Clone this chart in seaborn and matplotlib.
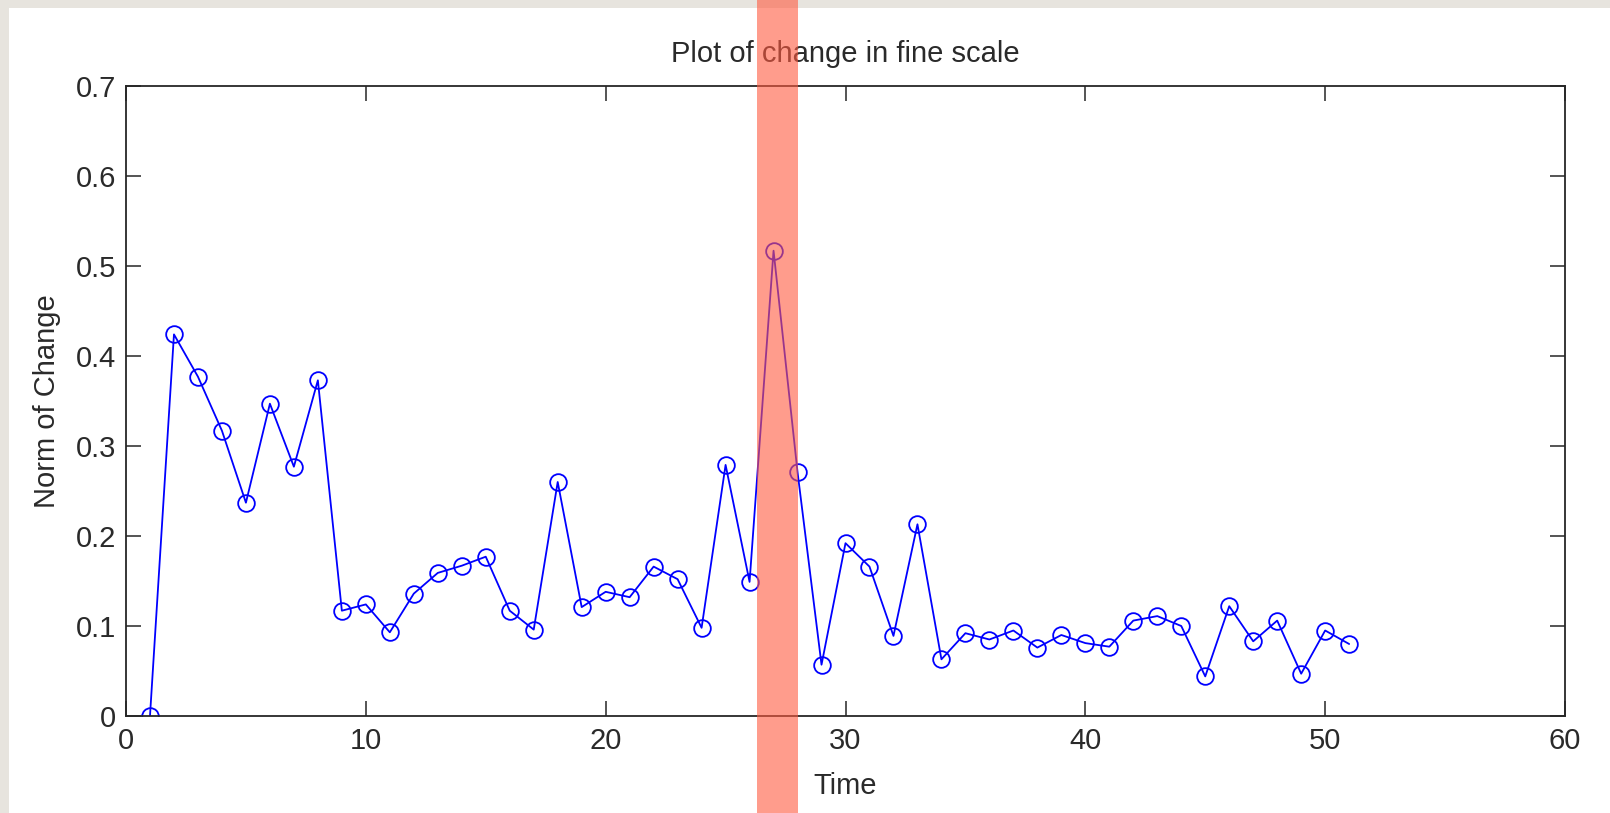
import matplotlib
matplotlib.use("Agg")
import matplotlib.pyplot as plt
from matplotlib.patches import Rectangle
from matplotlib.transforms import blended_transform_factory
import seaborn as sns
import pandas as pd

# ---- data ----
time = [1, 2, 3, 4, 5, 6, 7, 8, 9, 10,
        11, 12, 13, 14, 15, 16, 17, 18, 19, 20,
        21, 22, 23, 24, 25, 26, 27, 28, 29, 30,
        31, 32, 33, 34, 35, 36, 37, 38, 39, 40,
        41, 42, 43, 44, 45, 46, 47, 48, 49, 50, 51]
norm_change = [0.000, 0.424, 0.377, 0.317, 0.237, 0.347, 0.277, 0.373, 0.117, 0.124,
               0.093, 0.136, 0.159, 0.167, 0.177, 0.117, 0.096, 0.260, 0.121, 0.138,
               0.132, 0.166, 0.152, 0.098, 0.279, 0.149, 0.517, 0.271, 0.057, 0.192,
               0.166, 0.089, 0.213, 0.063, 0.092, 0.085, 0.095, 0.076, 0.090, 0.081,
               0.077, 0.106, 0.111, 0.100, 0.044, 0.122, 0.083, 0.106, 0.047, 0.095, 0.080]
x_ticks = [0, 10, 20, 30, 40, 50, 60]
y_ticks = [0, 0.1, 0.2, 0.3, 0.4, 0.5, 0.6, 0.7]
y_tick_labels = ["0", "0.1", "0.2", "0.3", "0.4", "0.5", "0.6", "0.7"]
highlight = [26.3, 28.0]
title = "Plot of change in fine scale"
x_label = "Time"
y_label = "Norm of Change"

df = pd.DataFrame({"Time": time, "Norm": norm_change})

sns.set_theme(style="white")
plt.rcParams["font.family"] = ["Liberation Sans", "DejaVu Sans"]
text_color = "#2a2a2a"

W, H = 1610, 813
fig = plt.figure(figsize=(W / 100, H / 100), dpi=100)
fig.patch.set_facecolor("#e7e4de")
# white canvas inside the beige border
fig.add_artist(Rectangle((9 / W, 0), 1 - 9 / W, (H - 8) / H, transform=fig.transFigure,
                         facecolor="white", edgecolor="none", zorder=-5))

ax = fig.add_axes([126 / W, (H - 716) / H, (1565 - 126) / W, (716 - 86) / H])
ax.set_facecolor("white")

sns.lineplot(data=df, x="Time", y="Norm", ax=ax, color="#0000ff", linewidth=1.3,
             marker="o", markersize=12, markerfacecolor="none",
             markeredgecolor="#0000ff", markeredgewidth=1.3)

ax.set_xlim(0, 60)
ax.set_ylim(0, 0.7)
ax.set_xticks(x_ticks)
ax.set_xticklabels([str(t) for t in x_ticks])
ax.set_yticks(y_ticks)
ax.set_yticklabels(y_tick_labels)

for s in ax.spines.values():
    s.set_color("#262626")
    s.set_linewidth(1.3)
    s.set_visible(True)

ax.tick_params(axis="both", which="major", direction="in", length=10.5, width=1.1,
               color="#262626", labelsize=21, labelcolor=text_color,
               top=True, right=True, bottom=True, left=True)
ax.tick_params(axis="x", pad=8)
ax.tick_params(axis="y", pad=7)

ax.set_title(title, fontsize=21, color=text_color, pad=17)
ax.set_xlabel(x_label, fontsize=21, color=text_color, labelpad=12)
ax.set_ylabel(y_label, fontsize=21, color=text_color, labelpad=11)
ax.grid(False)

# translucent red highlight band spanning the whole figure height
trans = blended_transform_factory(ax.transData, fig.transFigure)
fig.add_artist(Rectangle((highlight[0], 0), highlight[1] - highlight[0], 1,
                         transform=trans, facecolor="#ff5a40", alpha=0.6,
                         edgecolor="none", zorder=10, clip_on=False))

fig.savefig("out.png", dpi=100, facecolor=fig.get_facecolor())
